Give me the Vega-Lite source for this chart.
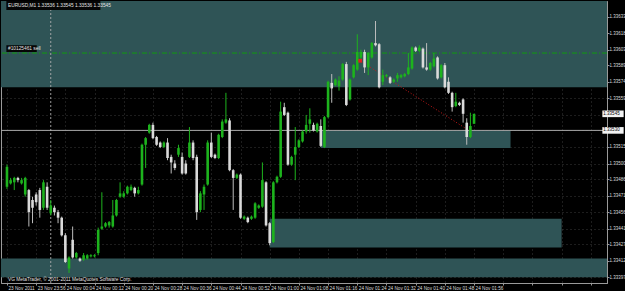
{
  "$schema": "https://vega.github.io/schema/vega-lite/v6.json",
  "width": 606,
  "height": 282,
  "autosize": {"type": "none"},
  "padding": {"left": 1, "top": 1, "right": 18, "bottom": 8},
  "background": "#000000",
  "config": {
    "view": {"stroke": "#9a9a9a", "fill": "#000000"},
    "axis": {
      "labelFont": "Liberation Sans",
      "labelColor": "#dcdcdc",
      "tickColor": "#9a9a9a",
      "domainColor": "#9a9a9a",
      "gridColor": "#3a3a3a",
      "gridDash": [1, 3],
      "tickSize": 2,
      "tickCount": 200,
      "labelOverlap": false,
      "labelFlush": false,
      "labelBound": false,
      "zindex": 1
    }
  },
  "datasets": {
    "zones": [
      {"t1": "2011-11-23T23:30:00Z", "t2": "2011-11-24T02:40:00Z", "p1": 1.3369, "p2": 1.33569},
      {"t1": "2011-11-24T01:14:00Z", "t2": "2011-11-24T02:06:00Z", "p1": 1.3353, "p2": 1.33514},
      {"t1": "2011-11-24T01:00:00Z", "t2": "2011-11-24T02:20:00Z", "p1": 1.3345, "p2": 1.33424},
      {"t1": "2011-11-23T23:30:00Z", "t2": "2011-11-24T02:40:00Z", "p1": 1.33414, "p2": 1.33397}
    ],
    "candles": [
      {"t": "2011-11-23T23:48:00Z", "o": 1.33479, "h": 1.33499, "l": 1.33477, "c": 1.33497},
      {"t": "2011-11-23T23:49:00Z", "o": 1.33482, "h": 1.33487, "l": 1.33481, "c": 1.33485},
      {"t": "2011-11-23T23:50:00Z", "o": 1.33483, "h": 1.33488, "l": 1.33476, "c": 1.33487},
      {"t": "2011-11-23T23:51:00Z", "o": 1.33487, "h": 1.33488, "l": 1.33483, "c": 1.33485},
      {"t": "2011-11-23T23:52:00Z", "o": 1.33482, "h": 1.33487, "l": 1.33481, "c": 1.33485},
      {"t": "2011-11-23T23:53:00Z", "o": 1.33472, "h": 1.33488, "l": 1.33470, "c": 1.33487},
      {"t": "2011-11-23T23:54:00Z", "o": 1.33476, "h": 1.33477, "l": 1.33443, "c": 1.33456},
      {"t": "2011-11-23T23:55:00Z", "o": 1.33467, "h": 1.33470, "l": 1.33446, "c": 1.33460},
      {"t": "2011-11-23T23:56:00Z", "o": 1.33472, "h": 1.33474, "l": 1.33462, "c": 1.33465},
      {"t": "2011-11-23T23:57:00Z", "o": 1.33476, "h": 1.33478, "l": 1.33451, "c": 1.33458},
      {"t": "2011-11-23T23:58:00Z", "o": 1.33460, "h": 1.33485, "l": 1.33458, "c": 1.33483},
      {"t": "2011-11-23T23:59:00Z", "o": 1.33479, "h": 1.33483, "l": 1.33458, "c": 1.33460},
      {"t": "2011-11-24T00:00:00Z", "o": 1.33455, "h": 1.33467, "l": 1.33453, "c": 1.33462},
      {"t": "2011-11-24T00:01:00Z", "o": 1.33460, "h": 1.33462, "l": 1.33453, "c": 1.33456},
      {"t": "2011-11-24T00:02:00Z", "o": 1.33456, "h": 1.33458, "l": 1.33446, "c": 1.33451},
      {"t": "2011-11-24T00:03:00Z", "o": 1.33451, "h": 1.33452, "l": 1.33434, "c": 1.33435},
      {"t": "2011-11-24T00:04:00Z", "o": 1.33435, "h": 1.33437, "l": 1.33410, "c": 1.33411},
      {"t": "2011-11-24T00:05:00Z", "o": 1.33405, "h": 1.33416, "l": 1.33401, "c": 1.33415},
      {"t": "2011-11-24T00:06:00Z", "o": 1.33431, "h": 1.33443, "l": 1.33414, "c": 1.33415},
      {"t": "2011-11-24T00:07:00Z", "o": 1.33415, "h": 1.33420, "l": 1.33414, "c": 1.33419},
      {"t": "2011-11-24T00:08:00Z", "o": 1.33414, "h": 1.33415, "l": 1.33411, "c": 1.33412},
      {"t": "2011-11-24T00:09:00Z", "o": 1.33413, "h": 1.33419, "l": 1.33412, "c": 1.33417},
      {"t": "2011-11-24T00:10:00Z", "o": 1.33414, "h": 1.33418, "l": 1.33413, "c": 1.33417},
      {"t": "2011-11-24T00:11:00Z", "o": 1.33416, "h": 1.33418, "l": 1.33415, "c": 1.33417},
      {"t": "2011-11-24T00:12:00Z", "o": 1.33416, "h": 1.33418, "l": 1.33415, "c": 1.33417},
      {"t": "2011-11-24T00:13:00Z", "o": 1.33419, "h": 1.33442, "l": 1.33417, "c": 1.33440},
      {"t": "2011-11-24T00:14:00Z", "o": 1.33441, "h": 1.33474, "l": 1.33440, "c": 1.33443},
      {"t": "2011-11-24T00:15:00Z", "o": 1.33443, "h": 1.33447, "l": 1.33442, "c": 1.33446},
      {"t": "2011-11-24T00:16:00Z", "o": 1.33444, "h": 1.33448, "l": 1.33442, "c": 1.33447},
      {"t": "2011-11-24T00:17:00Z", "o": 1.33443, "h": 1.33467, "l": 1.33442, "c": 1.33453},
      {"t": "2011-11-24T00:18:00Z", "o": 1.33453, "h": 1.33468, "l": 1.33452, "c": 1.33467},
      {"t": "2011-11-24T00:19:00Z", "o": 1.33470, "h": 1.33483, "l": 1.33469, "c": 1.33473},
      {"t": "2011-11-24T00:20:00Z", "o": 1.33470, "h": 1.33475, "l": 1.33469, "c": 1.33473},
      {"t": "2011-11-24T00:21:00Z", "o": 1.33473, "h": 1.33480, "l": 1.33472, "c": 1.33479},
      {"t": "2011-11-24T00:22:00Z", "o": 1.33476, "h": 1.33481, "l": 1.33475, "c": 1.33479},
      {"t": "2011-11-24T00:23:00Z", "o": 1.33478, "h": 1.33479, "l": 1.33470, "c": 1.33473},
      {"t": "2011-11-24T00:24:00Z", "o": 1.33473, "h": 1.33479, "l": 1.33472, "c": 1.33476},
      {"t": "2011-11-24T00:25:00Z", "o": 1.33481, "h": 1.33518, "l": 1.33480, "c": 1.33517},
      {"t": "2011-11-24T00:26:00Z", "o": 1.33517, "h": 1.33524, "l": 1.33496, "c": 1.33523},
      {"t": "2011-11-24T00:27:00Z", "o": 1.33528, "h": 1.33536, "l": 1.33527, "c": 1.33535},
      {"t": "2011-11-24T00:28:00Z", "o": 1.33535, "h": 1.33537, "l": 1.33522, "c": 1.33523},
      {"t": "2011-11-24T00:29:00Z", "o": 1.33524, "h": 1.33525, "l": 1.33516, "c": 1.33517},
      {"t": "2011-11-24T00:30:00Z", "o": 1.33519, "h": 1.33520, "l": 1.33514, "c": 1.33515},
      {"t": "2011-11-24T00:31:00Z", "o": 1.33515, "h": 1.33520, "l": 1.33514, "c": 1.33519},
      {"t": "2011-11-24T00:32:00Z", "o": 1.33519, "h": 1.33523, "l": 1.33503, "c": 1.33505},
      {"t": "2011-11-24T00:33:00Z", "o": 1.33506, "h": 1.33508, "l": 1.33491, "c": 1.33501},
      {"t": "2011-11-24T00:34:00Z", "o": 1.33500, "h": 1.33503, "l": 1.33494, "c": 1.33496},
      {"t": "2011-11-24T00:35:00Z", "o": 1.33508, "h": 1.33517, "l": 1.33506, "c": 1.33514},
      {"t": "2011-11-24T00:36:00Z", "o": 1.33506, "h": 1.33510, "l": 1.33490, "c": 1.33491},
      {"t": "2011-11-24T00:37:00Z", "o": 1.33500, "h": 1.33503, "l": 1.33490, "c": 1.33491},
      {"t": "2011-11-24T00:38:00Z", "o": 1.33506, "h": 1.33533, "l": 1.33505, "c": 1.33519},
      {"t": "2011-11-24T00:39:00Z", "o": 1.33519, "h": 1.33521, "l": 1.33503, "c": 1.33505},
      {"t": "2011-11-24T00:40:00Z", "o": 1.33506, "h": 1.33508, "l": 1.33449, "c": 1.33456},
      {"t": "2011-11-24T00:41:00Z", "o": 1.33458, "h": 1.33475, "l": 1.33456, "c": 1.33473},
      {"t": "2011-11-24T00:42:00Z", "o": 1.33472, "h": 1.33481, "l": 1.33458, "c": 1.33479},
      {"t": "2011-11-24T00:43:00Z", "o": 1.33481, "h": 1.33521, "l": 1.33480, "c": 1.33519},
      {"t": "2011-11-24T00:44:00Z", "o": 1.33519, "h": 1.33528, "l": 1.33505, "c": 1.33506},
      {"t": "2011-11-24T00:45:00Z", "o": 1.33508, "h": 1.33509, "l": 1.33504, "c": 1.33505},
      {"t": "2011-11-24T00:46:00Z", "o": 1.33505, "h": 1.33527, "l": 1.33504, "c": 1.33526},
      {"t": "2011-11-24T00:47:00Z", "o": 1.33524, "h": 1.33540, "l": 1.33523, "c": 1.33538},
      {"t": "2011-11-24T00:48:00Z", "o": 1.33537, "h": 1.33564, "l": 1.33536, "c": 1.33540},
      {"t": "2011-11-24T00:49:00Z", "o": 1.33539, "h": 1.33541, "l": 1.33493, "c": 1.33494},
      {"t": "2011-11-24T00:50:00Z", "o": 1.33494, "h": 1.33495, "l": 1.33458, "c": 1.33487},
      {"t": "2011-11-24T00:51:00Z", "o": 1.33487, "h": 1.33491, "l": 1.33486, "c": 1.33490},
      {"t": "2011-11-24T00:52:00Z", "o": 1.33490, "h": 1.33491, "l": 1.33450, "c": 1.33451},
      {"t": "2011-11-24T00:53:00Z", "o": 1.33450, "h": 1.33453, "l": 1.33449, "c": 1.33452},
      {"t": "2011-11-24T00:54:00Z", "o": 1.33451, "h": 1.33452, "l": 1.33446, "c": 1.33447},
      {"t": "2011-11-24T00:55:00Z", "o": 1.33450, "h": 1.33453, "l": 1.33449, "c": 1.33452},
      {"t": "2011-11-24T00:56:00Z", "o": 1.33451, "h": 1.33465, "l": 1.33450, "c": 1.33464},
      {"t": "2011-11-24T00:57:00Z", "o": 1.33460, "h": 1.33463, "l": 1.33459, "c": 1.33462},
      {"t": "2011-11-24T00:58:00Z", "o": 1.33461, "h": 1.33501, "l": 1.33460, "c": 1.33485},
      {"t": "2011-11-24T00:59:00Z", "o": 1.33483, "h": 1.33484, "l": 1.33443, "c": 1.33444},
      {"t": "2011-11-24T01:00:00Z", "o": 1.33446, "h": 1.33447, "l": 1.33426, "c": 1.33428},
      {"t": "2011-11-24T01:01:00Z", "o": 1.33429, "h": 1.33484, "l": 1.33428, "c": 1.33483},
      {"t": "2011-11-24T01:02:00Z", "o": 1.33483, "h": 1.33489, "l": 1.33482, "c": 1.33488},
      {"t": "2011-11-24T01:03:00Z", "o": 1.33488, "h": 1.33556, "l": 1.33487, "c": 1.33547},
      {"t": "2011-11-24T01:04:00Z", "o": 1.33551, "h": 1.33555, "l": 1.33543, "c": 1.33544},
      {"t": "2011-11-24T01:05:00Z", "o": 1.33546, "h": 1.33547, "l": 1.33498, "c": 1.33499},
      {"t": "2011-11-24T01:06:00Z", "o": 1.33499, "h": 1.33507, "l": 1.33498, "c": 1.33506},
      {"t": "2011-11-24T01:07:00Z", "o": 1.33508, "h": 1.33533, "l": 1.33485, "c": 1.33515},
      {"t": "2011-11-24T01:08:00Z", "o": 1.33515, "h": 1.33522, "l": 1.33514, "c": 1.33521},
      {"t": "2011-11-24T01:09:00Z", "o": 1.33520, "h": 1.33530, "l": 1.33519, "c": 1.33529},
      {"t": "2011-11-24T01:10:00Z", "o": 1.33529, "h": 1.33544, "l": 1.33527, "c": 1.33535},
      {"t": "2011-11-24T01:11:00Z", "o": 1.33536, "h": 1.33550, "l": 1.33528, "c": 1.33540},
      {"t": "2011-11-24T01:12:00Z", "o": 1.33535, "h": 1.33537, "l": 1.33529, "c": 1.33530},
      {"t": "2011-11-24T01:13:00Z", "o": 1.33529, "h": 1.33537, "l": 1.33528, "c": 1.33536},
      {"t": "2011-11-24T01:14:00Z", "o": 1.33534, "h": 1.33540, "l": 1.33515, "c": 1.33516},
      {"t": "2011-11-24T01:15:00Z", "o": 1.33515, "h": 1.33543, "l": 1.33514, "c": 1.33542},
      {"t": "2011-11-24T01:16:00Z", "o": 1.33542, "h": 1.33575, "l": 1.33541, "c": 1.33574},
      {"t": "2011-11-24T01:17:00Z", "o": 1.33573, "h": 1.33581, "l": 1.33555, "c": 1.33568},
      {"t": "2011-11-24T01:18:00Z", "o": 1.33571, "h": 1.33577, "l": 1.33570, "c": 1.33576},
      {"t": "2011-11-24T01:19:00Z", "o": 1.33570, "h": 1.33579, "l": 1.33566, "c": 1.33575},
      {"t": "2011-11-24T01:20:00Z", "o": 1.33576, "h": 1.33591, "l": 1.33575, "c": 1.33590},
      {"t": "2011-11-24T01:21:00Z", "o": 1.33590, "h": 1.33592, "l": 1.33552, "c": 1.33553},
      {"t": "2011-11-24T01:22:00Z", "o": 1.33558, "h": 1.33577, "l": 1.33557, "c": 1.33576},
      {"t": "2011-11-24T01:23:00Z", "o": 1.33578, "h": 1.33590, "l": 1.33577, "c": 1.33589},
      {"t": "2011-11-24T01:24:00Z", "o": 1.33585, "h": 1.33617, "l": 1.33584, "c": 1.33601},
      {"t": "2011-11-24T01:25:00Z", "o": 1.33596, "h": 1.33603, "l": 1.33594, "c": 1.33601},
      {"t": "2011-11-24T01:26:00Z", "o": 1.33601, "h": 1.33603, "l": 1.33582, "c": 1.33587},
      {"t": "2011-11-24T01:27:00Z", "o": 1.33587, "h": 1.33601, "l": 1.33580, "c": 1.33600},
      {"t": "2011-11-24T01:28:00Z", "o": 1.33596, "h": 1.33610, "l": 1.33595, "c": 1.33609},
      {"t": "2011-11-24T01:29:00Z", "o": 1.33609, "h": 1.33629, "l": 1.33606, "c": 1.33607},
      {"t": "2011-11-24T01:30:00Z", "o": 1.33608, "h": 1.33609, "l": 1.33568, "c": 1.33569},
      {"t": "2011-11-24T01:31:00Z", "o": 1.33574, "h": 1.33585, "l": 1.33571, "c": 1.33580},
      {"t": "2011-11-24T01:32:00Z", "o": 1.33579, "h": 1.33581, "l": 1.33578, "c": 1.33580},
      {"t": "2011-11-24T01:33:00Z", "o": 1.33578, "h": 1.33579, "l": 1.33572, "c": 1.33573},
      {"t": "2011-11-24T01:34:00Z", "o": 1.33574, "h": 1.33577, "l": 1.33573, "c": 1.33576},
      {"t": "2011-11-24T01:35:00Z", "o": 1.33577, "h": 1.33582, "l": 1.33574, "c": 1.33580},
      {"t": "2011-11-24T01:36:00Z", "o": 1.33578, "h": 1.33581, "l": 1.33577, "c": 1.33580},
      {"t": "2011-11-24T01:37:00Z", "o": 1.33579, "h": 1.33582, "l": 1.33578, "c": 1.33581},
      {"t": "2011-11-24T01:38:00Z", "o": 1.33581, "h": 1.33600, "l": 1.33580, "c": 1.33587},
      {"t": "2011-11-24T01:39:00Z", "o": 1.33586, "h": 1.33606, "l": 1.33585, "c": 1.33605},
      {"t": "2011-11-24T01:40:00Z", "o": 1.33605, "h": 1.33606, "l": 1.33601, "c": 1.33602},
      {"t": "2011-11-24T01:41:00Z", "o": 1.33602, "h": 1.33607, "l": 1.33601, "c": 1.33605},
      {"t": "2011-11-24T01:42:00Z", "o": 1.33604, "h": 1.33605, "l": 1.33586, "c": 1.33587},
      {"t": "2011-11-24T01:43:00Z", "o": 1.33587, "h": 1.33609, "l": 1.33584, "c": 1.33585},
      {"t": "2011-11-24T01:44:00Z", "o": 1.33585, "h": 1.33592, "l": 1.33584, "c": 1.33591},
      {"t": "2011-11-24T01:45:00Z", "o": 1.33588, "h": 1.33600, "l": 1.33587, "c": 1.33595},
      {"t": "2011-11-24T01:46:00Z", "o": 1.33596, "h": 1.33597, "l": 1.33576, "c": 1.33577},
      {"t": "2011-11-24T01:47:00Z", "o": 1.33578, "h": 1.33590, "l": 1.33577, "c": 1.33589},
      {"t": "2011-11-24T01:48:00Z", "o": 1.33589, "h": 1.33591, "l": 1.33568, "c": 1.33569},
      {"t": "2011-11-24T01:49:00Z", "o": 1.33574, "h": 1.33578, "l": 1.33563, "c": 1.33564},
      {"t": "2011-11-24T01:50:00Z", "o": 1.33564, "h": 1.33565, "l": 1.33547, "c": 1.33551},
      {"t": "2011-11-24T01:51:00Z", "o": 1.33552, "h": 1.33564, "l": 1.33551, "c": 1.33556},
      {"t": "2011-11-24T01:52:00Z", "o": 1.33555, "h": 1.33556, "l": 1.33552, "c": 1.33553},
      {"t": "2011-11-24T01:53:00Z", "o": 1.33558, "h": 1.33559, "l": 1.33537, "c": 1.33545},
      {"t": "2011-11-24T01:54:00Z", "o": 1.33537, "h": 1.33541, "l": 1.33517, "c": 1.33524},
      {"t": "2011-11-24T01:55:00Z", "o": 1.33524, "h": 1.33546, "l": 1.33523, "c": 1.33534},
      {"t": "2011-11-24T01:56:00Z", "o": 1.33536, "h": 1.33545, "l": 1.33536, "c": 1.33545}
    ]
  },
  "layer": [
    {
      "data": {"name": "zones"},
      "mark": {"type": "rect", "color": "#2f5456", "clip": true},
      "encoding": {
        "x": {"field": "t1", "type": "temporal"},
        "x2": {"field": "t2"},
        "y": {"field": "p1", "type": "quantitative"},
        "y2": {"field": "p2"}
      }
    },
    {
      "data": {"values": [{"p": 1.336}]},
      "mark": {"type": "rule", "color": "#109c10", "strokeWidth": 1, "strokeDash": [5, 2, 1, 2]},
      "encoding": {"y": {"field": "p", "type": "quantitative"}}
    },
    {
      "data": {"values": [{"p": 1.3353}]},
      "mark": {"type": "rule", "color": "#a8a8a8", "strokeWidth": 1},
      "encoding": {"y": {"field": "p", "type": "quantitative"}}
    },
    {
      "data": {"values": [{"t": "2011-11-24T00:00:00Z"}]},
      "mark": {"type": "rule", "color": "#b4b4b4", "strokeWidth": 1, "strokeDash": [2, 2], "opacity": 0.85},
      "encoding": {"x": {"field": "t", "type": "temporal"}}
    },
    {
      "data": {"values": [{"t1": "2011-11-24T01:24:48Z", "t2": "2011-11-24T01:53:36Z", "p1": 1.33593, "p2": 1.33532}]},
      "mark": {"type": "rule", "color": "#c81818", "strokeWidth": 1, "strokeDash": [1, 2]},
      "encoding": {
        "x": {"field": "t1", "type": "temporal"},
        "x2": {"field": "t2"},
        "y": {"field": "p1", "type": "quantitative"},
        "y2": {"field": "p2"}
      }
    },
    {
      "data": {"name": "candles"},
      "mark": {"type": "rule", "strokeWidth": 1},
      "encoding": {
        "x": {
          "field": "t",
          "type": "temporal",
          "scale": {
            "type": "utc",
            "domain": [
              {"year": 2011, "month": 11, "date": 23, "hours": 23, "minutes": 47, "seconds": 44, "utc": true},
              {"year": 2011, "month": 11, "date": 24, "hours": 2, "minutes": 31, "seconds": 4, "utc": true}
            ]
          },
          "axis": {
            "orient": "bottom",
            "title": null,
            "grid": true,
            "tickCount": 200,
            "values": [
              {"year": 2011, "month": 11, "date": 23, "hours": 23, "minutes": 48, "utc": true},
              {"year": 2011, "month": 11, "date": 23, "hours": 23, "minutes": 56, "utc": true},
              {"year": 2011, "month": 11, "date": 24, "hours": 0, "minutes": 4, "utc": true},
              {"year": 2011, "month": 11, "date": 24, "hours": 0, "minutes": 12, "utc": true},
              {"year": 2011, "month": 11, "date": 24, "hours": 0, "minutes": 20, "utc": true},
              {"year": 2011, "month": 11, "date": 24, "hours": 0, "minutes": 28, "utc": true},
              {"year": 2011, "month": 11, "date": 24, "hours": 0, "minutes": 36, "utc": true},
              {"year": 2011, "month": 11, "date": 24, "hours": 0, "minutes": 44, "utc": true},
              {"year": 2011, "month": 11, "date": 24, "hours": 0, "minutes": 52, "utc": true},
              {"year": 2011, "month": 11, "date": 24, "hours": 1, "minutes": 0, "utc": true},
              {"year": 2011, "month": 11, "date": 24, "hours": 1, "minutes": 8, "utc": true},
              {"year": 2011, "month": 11, "date": 24, "hours": 1, "minutes": 16, "utc": true},
              {"year": 2011, "month": 11, "date": 24, "hours": 1, "minutes": 24, "utc": true},
              {"year": 2011, "month": 11, "date": 24, "hours": 1, "minutes": 32, "utc": true},
              {"year": 2011, "month": 11, "date": 24, "hours": 1, "minutes": 40, "utc": true},
              {"year": 2011, "month": 11, "date": 24, "hours": 1, "minutes": 48, "utc": true},
              {"year": 2011, "month": 11, "date": 24, "hours": 1, "minutes": 56, "utc": true},
              {"year": 2011, "month": 11, "date": 24, "hours": 2, "minutes": 4, "utc": true},
              {"year": 2011, "month": 11, "date": 24, "hours": 2, "minutes": 12, "utc": true},
              {"year": 2011, "month": 11, "date": 24, "hours": 2, "minutes": 20, "utc": true},
              {"year": 2011, "month": 11, "date": 24, "hours": 2, "minutes": 28, "utc": true}
            ],
            "labelExpr": "utcFormat(datum.value, '%H:%M') == '23:48' ? '23 Nov 2011' : (utcFormat(datum.value, '%H') == '02' ? '' : utcFormat(datum.value, '%d %b %H:%M'))",
            "labelAlign": "left",
            "labelBaseline": "top",
            "labelOffset": 1,
            "labelPadding": 0,
            "labelFontSize": 4.7
          }
        },
        "y": {
          "field": "l",
          "type": "quantitative",
          "scale": {"domain": [1.3339189, 1.336471], "nice": false, "zero": false},
          "axis": {
            "orient": "right",
            "title": null,
            "grid": true,
            "tickCount": 200,
            "values": [1.33633, 1.33618, 1.33603, 1.33589, 1.33574, 1.33559, 1.33544, 1.3353, 1.33515, 1.335, 1.33486, 1.33471, 1.33456, 1.33441, 1.33427, 1.33412, 1.33397],
            "labelExpr": "(datum.value > 1.33543 && datum.value < 1.33545) || (datum.value > 1.33529 && datum.value < 1.33531) ? '' : format(datum.value, '.5f')",
            "labelBaseline": "middle",
            "labelPadding": 0,
            "labelFontSize": 4.5
          }
        },
        "y2": {"field": "h"},
        "color": {"condition": {"test": "datum.c >= datum.o", "value": "#1db31d"}, "value": "#bdbdbd"}
      }
    },
    {
      "data": {"name": "candles"},
      "mark": {"type": "bar", "width": 2.6},
      "encoding": {
        "x": {"field": "t", "type": "temporal"},
        "y": {"field": "o", "type": "quantitative"},
        "y2": {"field": "c"},
        "color": {"condition": {"test": "datum.c >= datum.o", "value": "#1db31d"}, "value": "#dadada"}
      }
    },
    {
      "data": {"values": [{"t": "2011-11-24T01:24:48Z", "p": 1.33593}]},
      "mark": {"type": "point", "shape": "square", "size": 14, "filled": true, "color": "#e02020", "opacity": 1},
      "encoding": {
        "x": {"field": "t", "type": "temporal"},
        "y": {"field": "p", "type": "quantitative"}
      }
    },
    {
      "data": {"values": [
        {"t1": "2011-11-23T23:47:50Z", "t2": "2011-11-24T00:13:36Z", "p1": 1.33647, "p2": 1.33639},
        {"t1": "2011-11-23T23:47:50Z", "t2": "2011-11-23T23:56:10Z", "p1": 1.33607, "p2": 1.33601}
      ]},
      "mark": {"type": "rect", "color": "#050505"},
      "encoding": {
        "x": {"field": "t1", "type": "temporal"},
        "x2": {"field": "t2"},
        "y": {"field": "p1", "type": "quantitative"},
        "y2": {"field": "p2"}
      }
    },
    {
      "data": {"values": [
        {"t": "2011-11-23T23:48:00Z", "p": 1.33643, "txt": "EURUSD,M1  1.33536 1.33545 1.33536 1.33545"},
        {"t": "2011-11-23T23:48:00Z", "p": 1.33604, "txt": "#10125461 sell"},
        {"t": "2011-11-23T23:48:00Z", "p": 1.33395, "txt": "VG MetaTrader, © 2001-2011 MetaQuotes Software Corp."}
      ]},
      "mark": {"type": "text", "font": "Liberation Sans", "fontSize": 4.8, "color": "#e6e6e6", "align": "left", "baseline": "middle", "dx": 1},
      "encoding": {
        "x": {"field": "t", "type": "temporal"},
        "y": {"field": "p", "type": "quantitative"},
        "text": {"field": "txt"}
      }
    },
    {
      "data": {"values": [
        {"t1": "2011-11-24T02:31:10Z", "t2": "2011-11-24T02:37:00Z", "p": 1.33545, "p1": 1.33548, "p2": 1.33542, "lab": "1.33545"},
        {"t1": "2011-11-24T02:31:10Z", "t2": "2011-11-24T02:37:00Z", "p": 1.3353, "p1": 1.33533, "p2": 1.33527, "lab": "1.33530"}
      ]},
      "layer": [
        {
          "mark": {"type": "rect", "color": "#f2f2f2"},
          "encoding": {
            "x": {"field": "t1", "type": "temporal"},
            "x2": {"field": "t2"},
            "y": {"field": "p1", "type": "quantitative"},
            "y2": {"field": "p2"}
          }
        },
        {
          "mark": {"type": "text", "font": "Liberation Sans", "fontSize": 4.5, "color": "#000000", "align": "left", "baseline": "middle", "dx": 1},
          "encoding": {
            "x": {"field": "t1", "type": "temporal"},
            "y": {"field": "p", "type": "quantitative"},
            "text": {"field": "lab"}
          }
        }
      ]
    }
  ]
}
